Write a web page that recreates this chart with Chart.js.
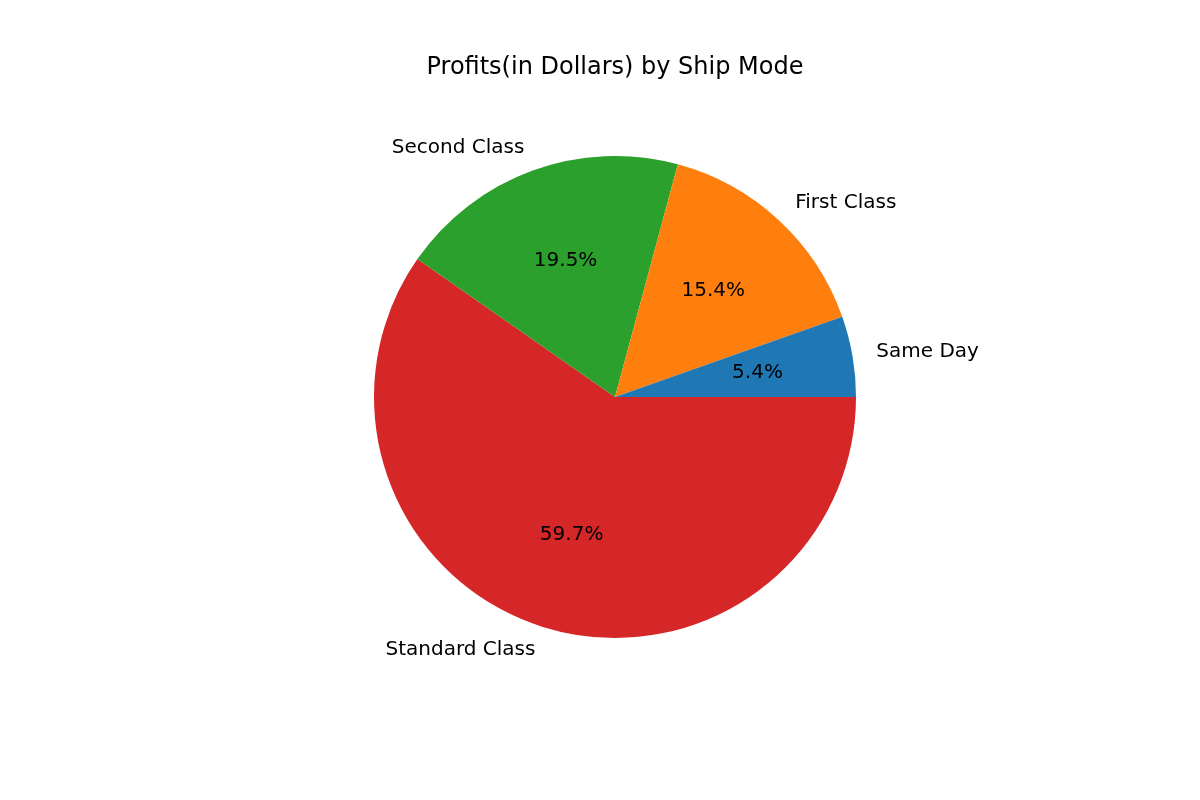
<!DOCTYPE html>
<html>
<head>
<meta charset="utf-8">
<script src="https://cdn.jsdelivr.net/npm/chart.js"></script>
<style>
body { margin: 0; background: #fff; }
#wrap { width: 1200px; height: 800px; }
</style>
</head>
<body>
<div id="wrap"><canvas id="chart" width="1200" height="800"></canvas></div>
<script>
// matplotlib draws counterclockwise from 3 o'clock; Chart.js goes clockwise,
// so the order is reversed here
const shipModes = ["Standard Class", "Second Class", "First Class", "Same Day"];
const profitShare = [59.7, 19.5, 15.4, 5.4];
const sliceColors = ["#d62728", "#2ca02c", "#ff7f0e", "#1f77b4"];
const titleText = "Profits(in Dollars) by Ship Mode";

const pieLabels = {
  id: "pieLabels",
  afterDraw(chart) {
    const ctx = chart.ctx;
    const meta = chart.getDatasetMeta(0);
    const total = profitShare.reduce((a, b) => a + b, 0);
    ctx.save();
    ctx.fillStyle = "#000";
    ctx.textBaseline = "middle";
    meta.data.forEach((arc, i) => {
      const mid = (arc.startAngle + arc.endAngle) / 2;
      const r = arc.outerRadius;
      const cx = Math.cos(mid), cy = Math.sin(mid);
      ctx.font = "20px 'DejaVu Sans'";
      ctx.textAlign = "center";
      ctx.fillText((profitShare[i] / total * 100).toFixed(1) + "%", arc.x + cx * r * 0.6, arc.y + cy * r * 0.6);
      ctx.textAlign = cx >= 0 ? "left" : "right";
      ctx.fillText(shipModes[i], arc.x + cx * r * 1.1, arc.y + cy * r * 1.1);
    });
    ctx.font = "24px 'DejaVu Sans'";
    ctx.textAlign = "center";
    ctx.fillText(titleText, 615, 68);
    ctx.restore();
  }
};

new Chart(document.getElementById("chart"), {
  type: "pie",
  data: {
    labels: shipModes,
    datasets: [{ data: profitShare, backgroundColor: sliceColors, borderWidth: 0 }]
  },
  options: {
    responsive: false,
    animation: false,
    rotation: 90,
    layout: { padding: { left: 374, right: 344, top: 156, bottom: 162 } },
    plugins: { legend: { display: false }, tooltip: { enabled: false }, title: { display: false } }
  },
  plugins: [pieLabels]
});
</script>
</body>
</html>
